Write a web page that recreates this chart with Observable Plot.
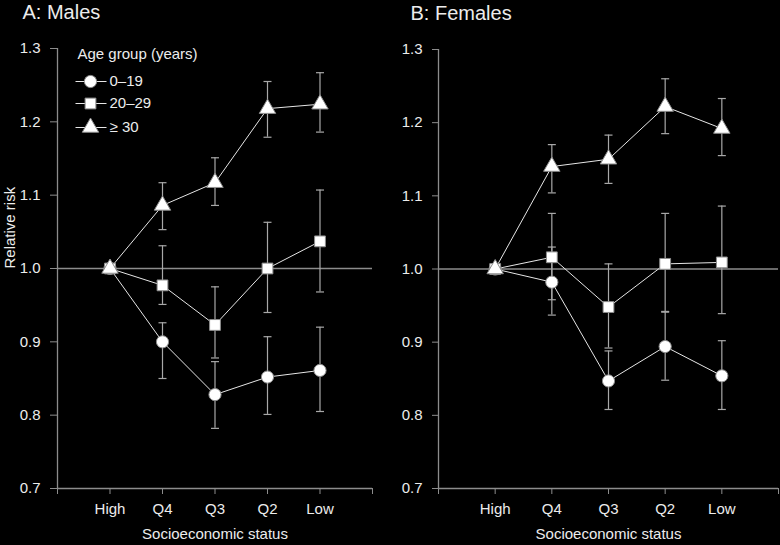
<!DOCTYPE html>
<html>
<head>
<meta charset="utf-8">
<script src="https://cdn.jsdelivr.net/npm/d3@7"></script>
<script src="https://cdn.jsdelivr.net/npm/@observablehq/plot@0.6"></script>
<style>
  html, body { margin: 0; padding: 0; background: #000; }
  #chart { display: flex; flex-direction: row; width: 780px; height: 545px; background: #000; }
</style>
</head>
<body>
<div id="chart"></div>
<script>
// ---- data ----
const categories = ["High", "Q4", "Q3", "Q2", "Low"];
const xTickLabels = ["", "High", "Q4", "Q3", "Q2", "Low", ""];
const yTicks = [0.7, 0.8, 0.9, 1.0, 1.1, 1.2, 1.3];
const groups = ["0–19", "20–29", "≥ 30"];
const legendTitle = "Age group (years)";

// Males
const males_0_19    = [1.0, 0.900, 0.828, 0.852, 0.861];
const males_0_19_lo = [null, 0.850, 0.782, 0.801, 0.805];
const males_0_19_hi = [null, 0.926, 0.873, 0.907, 0.920];
const males_20_29    = [1.0, 0.977, 0.923, 1.000, 1.037];
const males_20_29_lo = [null, 0.951, 0.878, 0.940, 0.968];
const males_20_29_hi = [null, 1.031, 0.975, 1.063, 1.107];
const males_30    = [1.0, 1.086, 1.117, 1.218, 1.224];
const males_30_lo = [null, 1.053, 1.086, 1.179, 1.186];
const males_30_hi = [null, 1.117, 1.151, 1.255, 1.267];

// Females
const females_0_19    = [1.0, 0.982, 0.847, 0.894, 0.854];
const females_0_19_lo = [null, 0.937, 0.808, 0.848, 0.808];
const females_0_19_hi = [null, 1.030, 0.888, 0.941, 0.902];
const females_20_29    = [1.0, 1.016, 0.948, 1.007, 1.009];
const females_20_29_lo = [null, 0.958, 0.892, 0.942, 0.939];
const females_20_29_hi = [null, 1.076, 1.007, 1.076, 1.086];
const females_30    = [1.0, 1.140, 1.150, 1.222, 1.192];
const females_30_lo = [null, 1.104, 1.117, 1.185, 1.155];
const females_30_hi = [null, 1.170, 1.183, 1.260, 1.233];

// ---- build tables ----
function rows(series) {
  const out = [];
  series.forEach(([g, v, lo, hi]) => {
    categories.forEach((c, k) => {
      out.push({ i: k + 1, cat: c, group: g, v: v[k], lo: lo[k], hi: hi[k] });
    });
  });
  return out;
}
const malesData = rows([
  [groups[0], males_0_19, males_0_19_lo, males_0_19_hi],
  [groups[1], males_20_29, males_20_29_lo, males_20_29_hi],
  [groups[2], males_30, males_30_lo, males_30_hi]
]);
const femalesData = rows([
  [groups[0], females_0_19, females_0_19_lo, females_0_19_hi],
  [groups[1], females_20_29, females_20_29_lo, females_20_29_hi],
  [groups[2], females_30, females_30_lo, females_30_hi]
]);

// ---- styles ----
const AXIS = "#8c8c8c";
const ERR = "#a8a8a8";
const LINE = "#e6e6e6";
const TEXT = "#ececec";
const FONT = "'Liberation Sans', Arial, Helvetica, sans-serif";
const symbolRange = ["circle", "square", "triangle"];

const capSymbol = { draw(ctx) { ctx.moveTo(-4, 0); ctx.lineTo(4, 0); } };
const legendLineSymbol = { draw(ctx) { ctx.moveTo(-15.5, 0); ctx.lineTo(15.5, 0); } };

function panel(data, opts) {
  const eb = data.filter(d => d.lo != null);
  const marks = [
    Plot.ruleY([1.0], { stroke: AXIS, strokeWidth: 1.3 }),
    Plot.ruleX([0], { stroke: AXIS, strokeWidth: 1.3 }),
    Plot.ruleY([0.7], { stroke: AXIS, strokeWidth: 1.3 }),
    Plot.axisY({ ticks: yTicks, tickFormat: d3.format(".1f"), tickSize: opts.yTickSize, tickPadding: 10,
      stroke: AXIS, fill: TEXT, fontSize: 15, label: null }),
    Plot.axisX({ ticks: [0, 1, 2, 3, 4, 5, 6], tickFormat: i => xTickLabels[i], tickSize: 6, tickPadding: 9,
      stroke: AXIS, fill: TEXT, fontSize: 15, label: null }),
    Plot.ruleX(eb, { x: "i", y1: "lo", y2: "hi", stroke: ERR, strokeWidth: 1.2 }),
    Plot.dot(eb, { x: "i", y: "lo", symbol: capSymbol, stroke: ERR, strokeWidth: 1.2, fill: "none" }),
    Plot.dot(eb, { x: "i", y: "hi", symbol: capSymbol, stroke: ERR, strokeWidth: 1.2, fill: "none" }),
    Plot.line(data, { x: "i", y: "v", z: "group", stroke: LINE, strokeWidth: 1 }),
    Plot.dot(data, { x: "i", y: "v", symbol: "group", r: 6.1, fill: "white", stroke: AXIS, strokeWidth: 1 }),
    Plot.text([opts.xLabel], { frameAnchor: "bottom", dy: 46, fill: TEXT, fontSize: 15, lineAnchor: "middle" }),
    Plot.text([opts.title], { frameAnchor: "top-left", dx: opts.titleDx, dy: -36, textAnchor: "start",
      lineAnchor: "middle", fill: TEXT, fontSize: 20 })
  ];
  if (opts.yLabel) {
    marks.push(Plot.text([opts.yLabel], { frameAnchor: "left", dx: -47, rotate: -90, fill: TEXT, fontSize: 15,
      lineAnchor: "middle" }));
  }
  if (opts.legend) {
    marks.push(Plot.text([legendTitle], { frameAnchor: "top-left", dx: 20, dy: 6, textAnchor: "start",
      lineAnchor: "middle", fill: TEXT, fontSize: 15 }));
    const dys = [33, 55, 79];
    groups.forEach((g, k) => {
      marks.push(Plot.dot([g], { frameAnchor: "top-left", dx: 33.5, dy: dys[k], symbol: legendLineSymbol,
        stroke: LINE, strokeWidth: 1, fill: "none" }));
      marks.push(Plot.dot([g], { frameAnchor: "top-left", dx: 33, dy: dys[k], symbol: d => d, r: 6.1,
        fill: "white", stroke: AXIS, strokeWidth: 1 }));
      marks.push(Plot.text([g], { frameAnchor: "top-left", dx: 52, dy: dys[k], textAnchor: "start",
        lineAnchor: "middle", fill: TEXT, fontSize: 15 }));
    });
  }
  return Plot.plot({
    width: 390,
    height: 545,
    marginLeft: opts.marginLeft,
    marginRight: opts.marginRight,
    marginTop: opts.marginTop,
    marginBottom: opts.marginBottom,
    x: { type: "linear", domain: [0, 6] },
    y: { type: "linear", domain: [0.7, 1.3] },
    symbol: { domain: groups, range: symbolRange },
    style: { background: "#000", color: TEXT, fontFamily: FONT, fontSize: "15px", overflow: "visible" },
    marks
  });
}

const chart = document.getElementById("chart");
chart.appendChild(panel(malesData, {
  title: "A: Males", titleDx: -35, xLabel: "Socioeconomic status", yLabel: "Relative risk", legend: true,
  marginLeft: 57, marginRight: 18, marginTop: 48, marginBottom: 57, yTickSize: 7
}));
chart.appendChild(panel(femalesData, {
  title: "B: Females", titleDx: -28, xLabel: "Socioeconomic status", yLabel: null, legend: false,
  marginLeft: 48, marginRight: 2, marginTop: 49, marginBottom: 57, yTickSize: 6
}));
</script>
</body>
</html>
